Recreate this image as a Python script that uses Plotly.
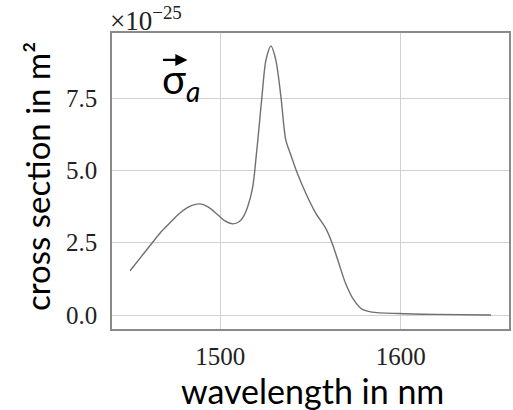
import plotly.graph_objects as go

wavelength = [1450, 1456, 1462, 1467, 1471.2, 1475, 1478.5, 1484, 1488.6, 1493.2,
              1497.8, 1502.4, 1507, 1510.6, 1513, 1515.2, 1518, 1519.8, 1521.5, 1523.1,
              1525.3, 1528.1, 1530.8, 1533.6, 1536.3, 1539.1, 1542.7, 1547.4, 1552.9, 1558.4,
              1562.0, 1565.7, 1569.4, 1574.0, 1578.5, 1584, 1598.7, 1620, 1650]
sigma_a = [1.53, 2.0, 2.47, 2.86, 3.13, 3.37, 3.57, 3.78, 3.84, 3.74,
           3.51, 3.26, 3.15, 3.23, 3.42, 3.74, 4.43, 5.42, 6.5, 7.55,
           8.81, 9.30, 8.81, 7.55, 6.05, 5.53, 4.90, 4.21, 3.52, 3.0,
           2.48, 1.79, 1.10, 0.52, 0.20, 0.10, 0.05, 0.02, 0.0]
y_ticks = [0.0, 2.5, 5.0, 7.5]
x_ticks = [1500, 1600]

serif = "Liberation Serif"
sans = "Lato"

fig = go.Figure()
fig.add_trace(go.Scatter(x=wavelength, y=sigma_a, mode="lines",
                         line=dict(color="#707070", width=1.4, shape="spline", smoothing=0.8),
                         showlegend=False, hoverinfo="skip"))

axis_common = dict(showline=True, mirror=True, linecolor="#8a8a8a", linewidth=1.5,
                   showgrid=True, gridcolor="#d0d0d0", gridwidth=1, zeroline=False,
                   ticks="", tickfont=dict(family=serif, size=25, color="#222222"))
fig.update_xaxes(range=[1440, 1660], tickvals=x_ticks, ticklabelstandoff=4, **axis_common)
fig.update_yaxes(range=[-0.484, 9.747], tickvals=y_ticks, tickformat=".1f",
                 ticklabelstandoff=8, **axis_common)

fig.update_layout(
    width=513, height=410,
    margin=dict(l=112, r=2, t=33, b=81),
    plot_bgcolor="white", paper_bgcolor="white",
    annotations=[
        dict(text="×10<sup>−25</sup>", xref="paper", yref="paper", x=0, y=1,
             xanchor="left", yanchor="bottom", showarrow=False, yshift=-5, xshift=-4,
             font=dict(family=serif, size=27, color="#222222")),
        dict(text="wavelength in nm", xref="paper", yref="paper", x=0.505, y=0,
             xanchor="center", yanchor="top", yshift=-39, showarrow=False,
             font=dict(family=sans, size=34, color="black")),
        dict(text="cross section in m²", xref="paper", yref="paper", x=0, y=0.5,
             xanchor="center", yanchor="middle", xshift=-75, yshift=4, textangle=-90,
             showarrow=False, font=dict(family=sans, size=33, color="black")),
        dict(text="σ<sub><i>a</i></sub>", xref="paper", yref="paper", x=0.122, y=0.835,
             xanchor="left", yanchor="middle", showarrow=False,
             font=dict(family=sans, size=40, color="black")),
        dict(text="", xref="paper", yref="paper", x=0.19, y=0.909,
             ax=-26, ay=0, showarrow=True, arrowhead=2, arrowsize=1.1,
             arrowwidth=2.2, arrowcolor="black", standoff=0),
    ],
)

fig.write_html("out.html")
